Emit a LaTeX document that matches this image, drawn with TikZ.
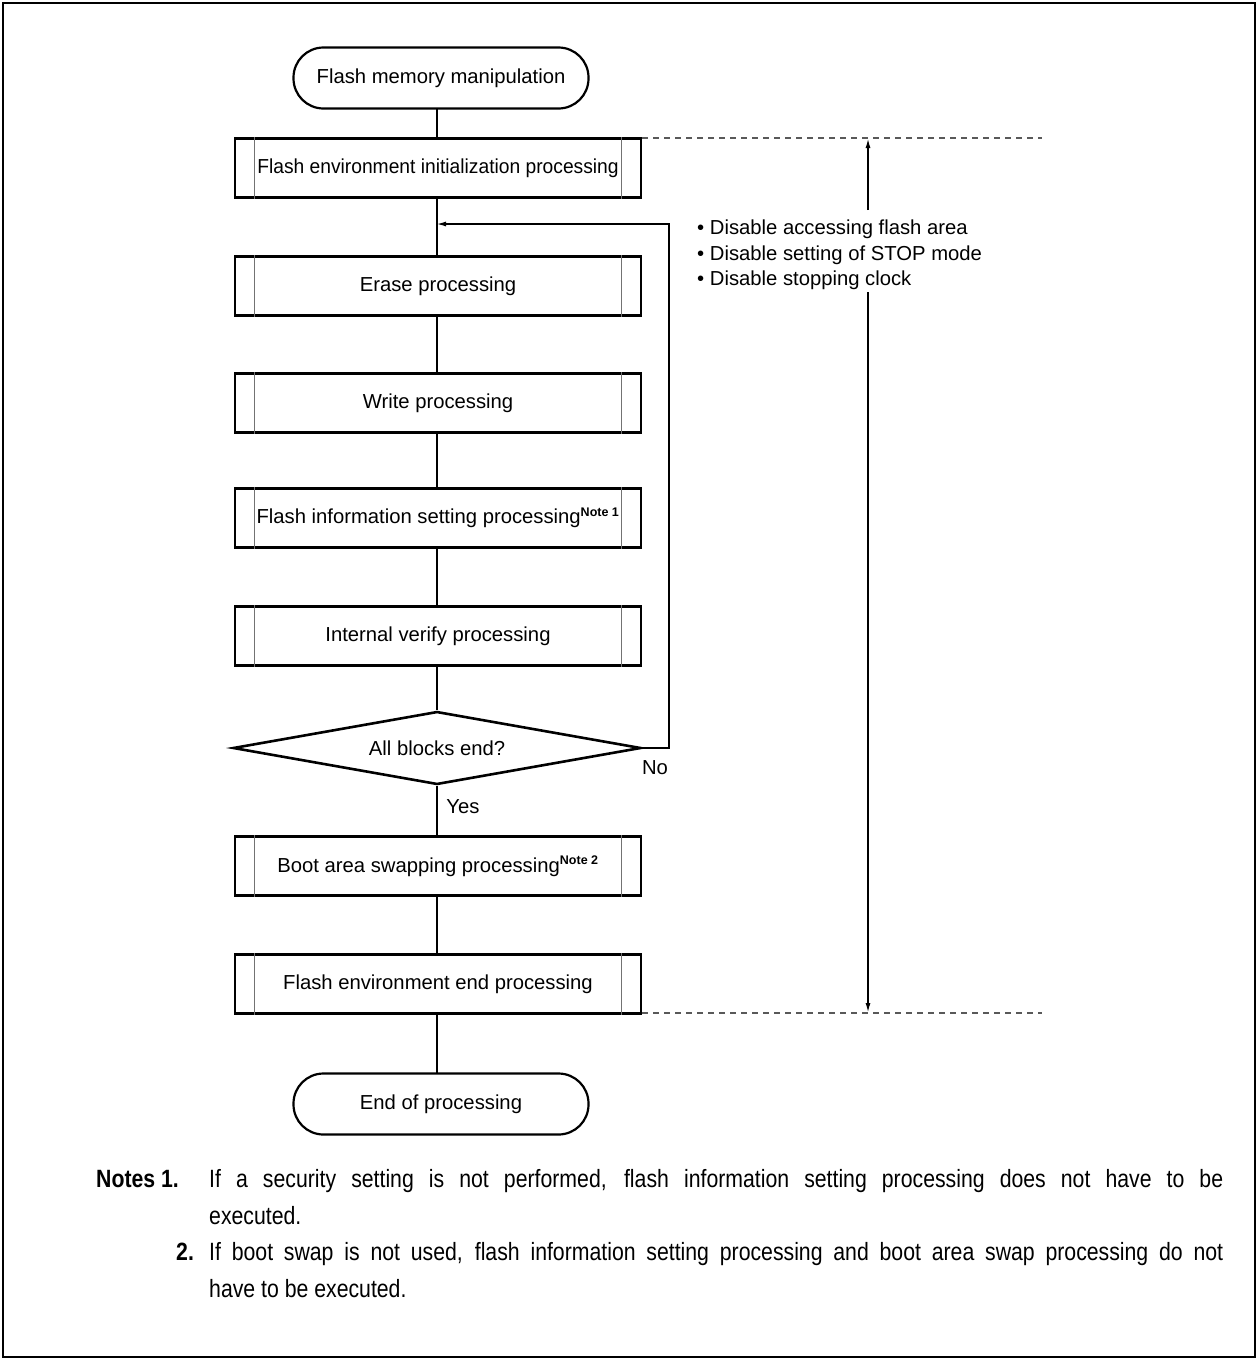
\documentclass[tikz,border=0pt]{standalone}
\usepackage{fontspec}
\setmainfont{Liberation Sans}
\newfontfamily\notesfont[FakeStretch=0.85]{Liberation Sans}
\usetikzlibrary{shapes.geometric,arrows.meta,calc}
\newcommand{\notemark}[1]{\textsuperscript{\bfseries\fontsize{12.5}{13}\selectfont #1}}
\begin{document}
\begin{tikzpicture}[x=1pt,y=-1pt,
  font=\fontsize{20.25}{24}\selectfont,
  proc/.style={draw, line width=2.6pt, minimum width=406pt, minimum height=59pt, inner sep=0pt},
  term/.style={draw, line width=2.2pt, rounded corners=30pt, minimum width=295pt, minimum height=61pt, inner sep=0pt},
  dec/.style={draw, diamond, line width=2.6pt, minimum width=408pt, minimum height=73pt, aspect=5.6, inner sep=0pt},
  innerln/.style={draw=black!55, line width=1pt},
  conn/.style={line width=1.1pt},
  arr/.style={line width=1.1pt, -{Latex[length=9pt,width=5pt]}},
  dashln/.style={draw=black!65, line width=1.3pt, dash pattern=on 6pt off 5pt},
  lbl/.style={inner sep=0pt},
  notefont/.style={font=\notesfont\fontsize{25}{37}\selectfont}
]
\useasboundingbox (0,0) rectangle (1258,1360);
\draw[line width=2pt] (3,3) rectangle (1255,1357);

\node[term] (start) at (441,78) {Flash memory manipulation};
\node[proc] (init) at (438,168) {\scalebox{0.95}[1]{Flash environment initialization processing}};
\node[proc] (erase) at (438,286) {Erase processing};
\node[proc] (write) at (438,403) {Write processing};
\node[proc] (info) at (438,518) {Flash information setting processing\notemark{Note 1}};
\node[proc] (verify) at (438,636) {Internal verify processing};
\node[dec] (blocks) at (437,748) {All blocks end?};
\node[proc] (boot) at (438,866) {Boot area swapping processing\notemark{Note 2}};
\node[proc] (envend) at (438,984) {Flash environment end processing};
\node[term] (endp) at (441,1104) {End of processing};

\foreach \n in {init,erase,write,info,verify,boot,envend}{
  \draw[innerln] ([xshift=21pt]\n.north west) -- ([xshift=21pt]\n.south west);
  \draw[innerln] ([xshift=-21pt]\n.north east) -- ([xshift=-21pt]\n.south east);
}

% main connectors
\draw[conn] (437,108) -- (437,138);
\coordinate (loopin) at (437,224);
\draw[conn] (437,198) -- (loopin) -- (437,256);
\draw[conn] (437,316) -- (437,373);
\draw[conn] (437,433) -- (437,488);
\draw[conn] (437,548) -- (437,606);
\draw[conn] (437,666) -- (blocks.north);
\draw[conn] (blocks.south) -- (437,836);
\draw[conn] (437,896) -- (437,954);
\draw[conn] (437,1014) -- (437,1073);

% loop back
\coordinate (lc1) at (669,748);
\coordinate (lc2) at (669,224);
\draw[arr] (blocks.east) -- (lc1) -- (lc2) -- (loopin);
\node[lbl] (nolbl) at (655,768) {No};
\node[lbl] (yeslbl) at (463,807) {Yes};

% dashed range lines
\coordinate (dt1) at (642,138);
\coordinate (dt2) at (1042,138);
\coordinate (db1) at (642,1013);
\coordinate (db2) at (1042,1013);
\draw[dashln] (dt1) -- (dt2);
\draw[dashln] (db1) -- (db2);

% range arrow
\coordinate (ra1) at (868,210);
\coordinate (ra2) at (868,139);
\coordinate (rb1) at (868,292);
\coordinate (rb2) at (868,1012);
\draw[arr] (ra1) -- (ra2);
\draw[arr] (rb1) -- (rb2);

\node[lbl, anchor=west] (b1) at (697,229) {\textbullet\ Disable accessing flash area};
\node[lbl, anchor=west] (b2) at (697,255) {\textbullet\ Disable setting of STOP mode};
\node[lbl, anchor=west] (b3) at (697,280) {\textbullet\ Disable stopping clock};

% notes
\node[lbl, notefont, anchor=base west] (notes1) at (96,1187) {\bfseries Notes 1.};
\node[lbl, notefont, anchor=base west, text width=1014pt, align=justify] (n1) at (209,1187)
  {If a security setting is not performed, flash information setting processing does not have to be\linebreak executed.};
\node[lbl, notefont, anchor=base west] (notes2) at (176,1260) {\bfseries 2.};
\node[lbl, notefont, anchor=base west, text width=1014pt, align=justify] (n2) at (209,1260)
  {If boot swap is not used, flash information setting processing and boot area swap processing do not\linebreak have to be executed.};
\end{tikzpicture}
\end{document}
